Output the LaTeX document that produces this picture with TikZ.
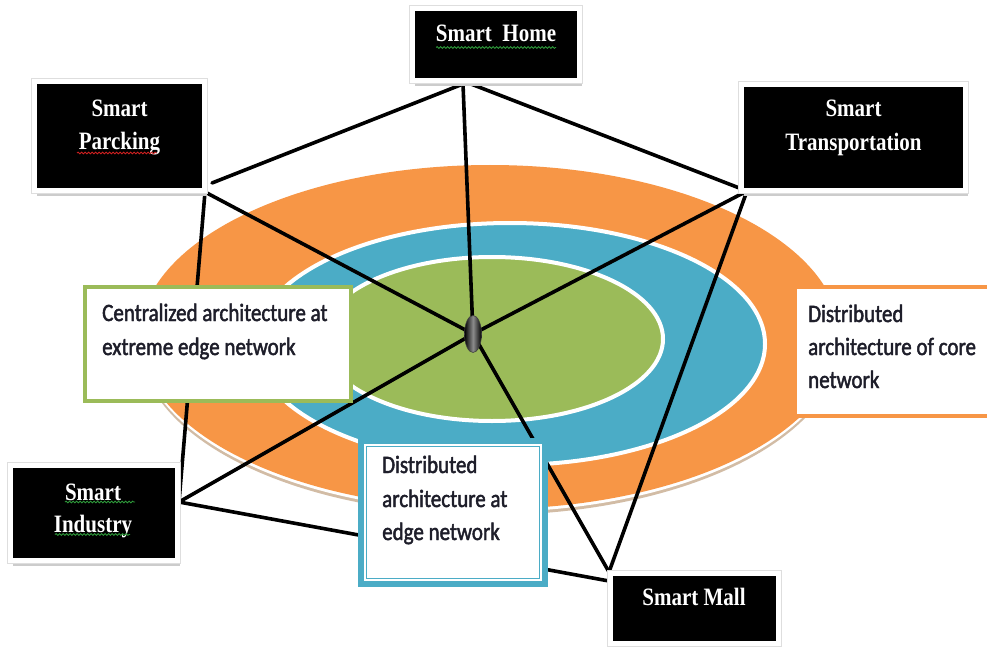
\documentclass[tikz,border=0pt]{standalone}
\usepackage{fontspec}
\usetikzlibrary{shadows,decorations.pathmorphing,shapes.geometric}
\newfontfamily\labelserif[FakeStretch=0.84]{Liberation Serif}
\newfontfamily\labelsans[FakeStretch=0.84,FakeBold=1.8]{Carlito}
\definecolor{ringorange}{HTML}{F79646}
\definecolor{ringblue}{HTML}{4BACC6}
\definecolor{ringgreen}{HTML}{9BBB59}
\definecolor{ringrim}{HTML}{D2BCA5}
\definecolor{notetextcol}{HTML}{1E1E2A}
\definecolor{spellred}{HTML}{D02020}
\definecolor{spellgreen}{HTML}{2E9A3A}
\pgfdeclarelayer{bg}
\pgfdeclarelayer{links}
\pgfsetlayers{bg,links,main}

\begin{document}
\begin{tikzpicture}[x=1pt,y=-1pt,
  appbox/.style={rectangle, fill=black, draw=white, line width=4.5pt,
    inner sep=0pt, outer sep=0pt,
    drop shadow={shadow xshift=2.5pt, shadow yshift=-5.5pt, fill=black!20, opacity=1},
    preaction={draw=black!13, line width=6.5pt}},
  apptext/.style={font=\labelserif\bfseries\fontsize{25}{33}\selectfont,
    text=white, inner sep=0pt, anchor=base},
  notebox/.style={rectangle, fill=white, line width=4pt, inner sep=0pt, outer sep=0pt},
  notetext/.style={font=\labelsans\fontsize{25}{34}\selectfont,
    text=notetextcol, inner sep=0pt, anchor=base west},
  hubnode/.style={ellipse, minimum width=17pt, minimum height=37pt, inner sep=0pt,
    shading=axis, left color=black, right color=black, middle color=black!45,
    draw=black!75, line width=0.6pt},
  link/.style={draw=black, line width=3.6pt, line cap=round, line join=round},
  squiggle/.style={decorate, decoration={snake, amplitude=0.9pt, segment length=3.5pt},
    line width=0.8pt}]

\useasboundingbox (0,0) rectangle (987,647);

% nested rings
\begin{pgfonlayer}{bg}
  \fill[white] (0,0) rectangle (987,647);
  \fill[ringrim] (490,343) ellipse [x radius=350pt, y radius=172pt];
  \fill[white] (490,340) ellipse [x radius=350pt, y radius=172pt];
  \fill[ringorange] (490,337) ellipse [x radius=350pt, y radius=172pt];
  \filldraw[fill=ringblue, draw=white, line width=4pt]
    (510,344) ellipse [x radius=255pt, y radius=121pt];
  \filldraw[fill=ringgreen, draw=white, line width=4pt]
    (492,339) ellipse [x radius=171pt, y radius=82pt];
\end{pgfonlayer}

% hub
\node[hubnode] (hub) at (473,334) {};

% application boxes
\node[appbox, minimum width=167pt, minimum height=72pt] (home) at (496,44.5) {};
\node[apptext] (hometext) at (496,42)
  {\begin{tabular}[t]{@{}c@{}}Smart\ \ Home\end{tabular}};

\node[appbox, minimum width=170pt, minimum height=109pt] (park) at (119.5,136) {};
\node[apptext] (parktext) at (119.5,117)
  {\begin{tabular}[t]{@{}c@{}}Smart\\Parcking\end{tabular}};

\node[appbox, minimum width=224pt, minimum height=106pt] (trans) at (853.5,137.5) {};
\node[apptext] (transtext) at (853.5,117)
  {\begin{tabular}[t]{@{}c@{}}Smart\\[1pt]Transportation\end{tabular}};

\node[appbox, minimum width=167pt, minimum height=95pt] (ind) at (94,513) {};
\node[apptext] (indtext) at (93,500)
  {\begin{tabular}[t]{@{}c@{}}Smart\\[-1pt]Industry\end{tabular}};

\node[appbox, minimum width=168pt, minimum height=70pt] (mall) at (694.5,608.5) {};
\node[apptext] (malltext) at (694,605)
  {\begin{tabular}[t]{@{}c@{}}Smart Mall\end{tabular}};

% spelling marks under the box titles
\draw[squiggle, spellgreen] (436,47.5) -- (556,47.5);
\draw[squiggle, spellred] (77,153) -- (157,153);
\draw[squiggle, spellgreen] (65,502) -- (135,502);
\draw[squiggle, spellgreen] (55,534.5) -- (130,534.5);

% architecture notes
\node[notebox, draw=ringgreen, minimum width=266pt, minimum height=114pt] (central) at (218,344) {};
\node[notetext] (centraltext) at (102,321)
  {\begin{tabular}[t]{@{}l@{}}Centralized architecture at\\extreme edge network\end{tabular}};

\node[notebox, draw=ringorange, minimum width=210pt, minimum height=129pt] (core) at (900,351.5) {};
\node[notetext] (coretext) at (808,322)
  {\begin{tabular}[t]{@{}l@{}}Distributed\\[-1pt]architecture of core\\[-1pt]network\end{tabular}};

\node[notebox, draw=ringblue, line width=6pt, minimum width=184pt, minimum height=143pt] (edge) at (453,512.5) {};
\draw[ringblue, line width=1.6pt]
  ([shift={(5.5pt,-5.5pt)}]edge.north west) rectangle ([shift={(-5.5pt,5.5pt)}]edge.south east);
\node[notetext] (edgetext) at (382,473)
  {\begin{tabular}[t]{@{}l@{}}Distributed\\architecture at\\[-1pt]edge network\end{tabular}};

% connector end points at the box corners
\coordinate (homeL) at ([shift={(-33pt,-3.5pt)}]home.south);
\coordinate (homeR) at ([shift={(-25pt,-3.5pt)}]home.south);
\coordinate (parkA) at ([shift={(7.5pt,7.5pt)}]park.south east);
\coordinate (parkB) at ([shift={(0.5pt,-1.5pt)}]park.south east);
\coordinate (transA) at ([shift={(5.5pt,-0.5pt)}]trans.south west);
\coordinate (indA) at ([shift={(1.5pt,11pt)}]ind.east);
\coordinate (mallA) at ([shift={(-1.5pt,1.5pt)}]mall.north west);
\coordinate (mallB) at ([shift={(-1.5pt,-7.5pt)}]mall.north west);

\begin{pgfonlayer}{links}
  \draw[link] (homeL) -- (parkA);
  \draw[link] (homeL) -- (hub.center);
  \draw[link] (homeR) -- (transA);
  \draw[link] (parkB) -- (hub.center);
  \draw[link] (parkB) -- (indA);
  \draw[link] (transA) -- (hub.center);
  \draw[link] (transA) -- (mallA);
  \draw[link] (indA) -- (hub.center);
  \draw[link] (indA) -- (mallB);
  \draw[link] (hub.center) -- (mallA);
\end{pgfonlayer}

\end{tikzpicture}
\end{document}
